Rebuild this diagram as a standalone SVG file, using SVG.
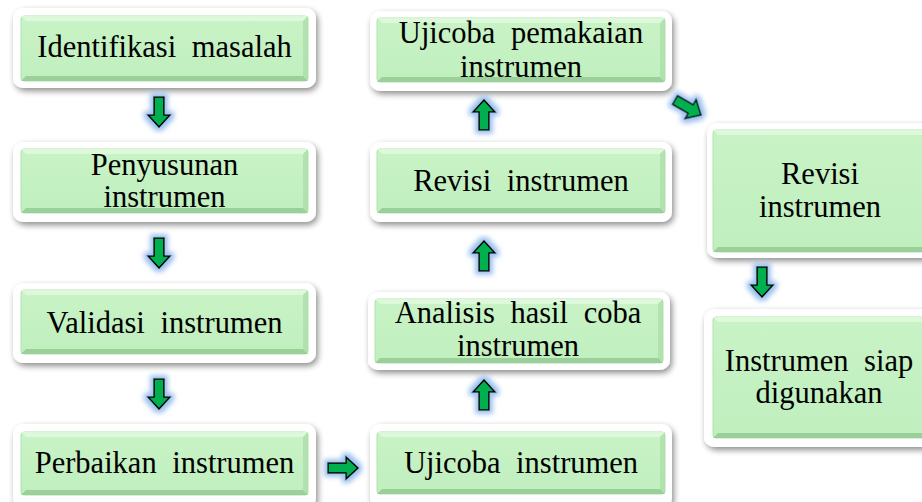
<svg xmlns="http://www.w3.org/2000/svg" width="922" height="502" viewBox="0 0 922 502">
<defs>
<filter id="sh" x="-10%" y="-20%" width="125%" height="150%">
<feGaussianBlur in="SourceAlpha" stdDeviation="3"/>
<feOffset dx="2" dy="3" result="b"/>
<feComponentTransfer><feFuncA type="linear" slope="0.45"/></feComponentTransfer>
<feMerge><feMergeNode/><feMergeNode in="SourceGraphic"/></feMerge>
</filter>
<filter id="glow" x="-60%" y="-60%" width="220%" height="220%">
<feMorphology in="SourceAlpha" operator="dilate" radius="2.5" result="d"/>
<feGaussianBlur in="d" stdDeviation="2.5" result="g"/>
<feFlood flood-color="#8fb8ec" flood-opacity="0.9"/>
<feComposite in2="g" operator="in"/>
<feMerge><feMergeNode/><feMergeNode in="SourceGraphic"/></feMerge>
</filter>
<linearGradient id="gf" x1="0" y1="0" x2="0" y2="1">
<stop offset="0" stop-color="#c9f3c6"/>
<stop offset="1" stop-color="#c0efbe"/>
</linearGradient>
<path id="ad" d="M-5,0 h10 v18 h6 l-11,12 l-11,-12 h6 z"/>
</defs>
<style>
.o{fill:#fff;filter:url(#sh)}
.i{fill:url(#gf);stroke:#b2e2b0;stroke-width:1}
.bt{fill:#e2fadf;opacity:0.8}
.bb{fill:#8fc58d;opacity:0.75}
.bs{fill:#a9dba7;opacity:0.7}
.t{font-size:30.5px;fill:#000;text-anchor:middle;word-spacing:8px}
.a{fill:#00b050;stroke:#000;stroke-width:1.6;stroke-linejoin:miter;filter:url(#glow)}
</style>
<rect width="922" height="502" fill="#fff"/>

<g font-family="Liberation Serif, Tinos, Times New Roman, DejaVu Serif, serif">
<g id="n1">
<rect class="o" x="13" y="8" width="303" height="80" rx="10"/>
<rect class="i" x="21" y="16" width="287" height="65" rx="3"/>
<path class="bt" d="M21,16 h287 l-5,5 h-277 z"/>
<path class="bb" d="M21,81 h287 l-5,-5 h-277 z"/>
<path class="bs" d="M308,16 v65 l-5,-5 v-55 z"/>
<text class="t" x="164.5" y="57">Identifikasi masalah</text>
</g>

<g id="n2">
<rect class="o" x="13" y="142" width="303" height="80" rx="10"/>
<rect class="i" x="21" y="149" width="287" height="64" rx="3"/>
<path class="bt" d="M21,149 h287 l-5,5 h-277 z"/>
<path class="bb" d="M21,213 h287 l-5,-5 h-277 z"/>
<path class="bs" d="M308,149 v64 l-5,-5 v-54 z"/>
<text class="t" x="164.5" y="175">Penyusunan</text>
<text class="t" x="164.5" y="207">instrumen</text>
</g>

<g id="n3">
<rect class="o" x="13" y="283" width="303" height="80" rx="10"/>
<rect class="i" x="21" y="290" width="287" height="64" rx="3"/>
<path class="bt" d="M21,290 h287 l-5,5 h-277 z"/>
<path class="bb" d="M21,354 h287 l-5,-5 h-277 z"/>
<path class="bs" d="M308,290 v64 l-5,-5 v-54 z"/>
<text class="t" x="164.5" y="333">Validasi instrumen</text>
</g>

<g id="n4">
<rect class="o" x="13" y="424" width="303" height="84" rx="10"/>
<rect class="i" x="21" y="432" width="287" height="63" rx="3"/>
<path class="bt" d="M21,432 h287 l-5,5 h-277 z"/>
<path class="bb" d="M21,495 h287 l-5,-5 h-277 z"/>
<path class="bs" d="M308,432 v63 l-5,-5 v-53 z"/>
<text class="t" x="164.5" y="473">Perbaikan instrumen</text>
</g>

<g id="n5">
<rect class="o" x="370" y="11" width="302" height="80" rx="10"/>
<rect class="i" x="377" y="18" width="288" height="64" rx="3"/>
<path class="bt" d="M377,18 h288 l-5,5 h-278 z"/>
<path class="bb" d="M377,82 h288 l-5,-5 h-278 z"/>
<path class="bs" d="M665,18 v64 l-5,-5 v-54 z"/>
<text class="t" x="521" y="43">Ujicoba pemakaian</text>
<text class="t" x="521" y="77">instrumen</text>
</g>

<g id="n6">
<rect class="o" x="370" y="142" width="302" height="80" rx="10"/>
<rect class="i" x="377" y="149" width="288" height="64" rx="3"/>
<path class="bt" d="M377,149 h288 l-5,5 h-278 z"/>
<path class="bb" d="M377,213 h288 l-5,-5 h-278 z"/>
<path class="bs" d="M665,149 v64 l-5,-5 v-54 z"/>
<text class="t" x="521" y="191">Revisi instrumen</text>
</g>

<g id="n7">
<rect class="o" x="368" y="292" width="302" height="78" rx="10"/>
<rect class="i" x="375" y="299" width="288" height="64" rx="3"/>
<path class="bt" d="M375,299 h288 l-5,5 h-278 z"/>
<path class="bb" d="M375,363 h288 l-5,-5 h-278 z"/>
<path class="bs" d="M663,299 v64 l-5,-5 v-54 z"/>
<text class="t" x="518" y="323">Analisis hasil coba</text>
<text class="t" x="518" y="356">instrumen</text>
</g>

<g id="n8">
<rect class="o" x="370" y="424" width="302" height="84" rx="10"/>
<rect class="i" x="377" y="432" width="288" height="62" rx="3"/>
<path class="bt" d="M377,432 h288 l-5,5 h-278 z"/>
<path class="bb" d="M377,494 h288 l-5,-5 h-278 z"/>
<path class="bs" d="M665,432 v62 l-5,-5 v-52 z"/>
<text class="t" x="521" y="473">Ujicoba instrumen</text>
</g>

<g id="n9">
<rect class="o" x="707" y="123" width="230" height="135" rx="10"/>
<rect class="i" x="713" y="130" width="224" height="122" rx="3"/>
<path class="bt" d="M713,130 h224 l-5,5 h-214 z"/>
<path class="bb" d="M713,252 h224 l-5,-5 h-214 z"/>
<text class="t" x="820" y="184">Revisi</text>
<text class="t" x="820" y="217">instrumen</text>
</g>

<g id="n10">
<rect class="o" x="704" y="309" width="230" height="138" rx="10"/>
<rect class="i" x="713" y="317" width="224" height="121" rx="3"/>
<path class="bt" d="M713,317 h224 l-5,5 h-214 z"/>
<path class="bb" d="M713,438 h224 l-5,-5 h-214 z"/>
<text class="t" x="819" y="371">Instrumen siap</text>
<text class="t" x="819" y="403">digunakan</text>
</g>
</g>

<g id="connectors">
<use href="#ad" class="a" transform="translate(159,97)"/>
<use href="#ad" class="a" transform="translate(159,238)"/>
<use href="#ad" class="a" transform="translate(159,379)"/>
<use href="#ad" class="a" transform="translate(328,468) rotate(-90)"/>
<use href="#ad" class="a" transform="translate(484,410) rotate(180)"/>
<use href="#ad" class="a" transform="translate(484,271) rotate(180)"/>
<use href="#ad" class="a" transform="translate(484,130) rotate(180)"/>
<use href="#ad" class="a" transform="translate(675,100) rotate(-60)"/>
<use href="#ad" class="a" transform="translate(762,267)"/>
</g>
</svg>
